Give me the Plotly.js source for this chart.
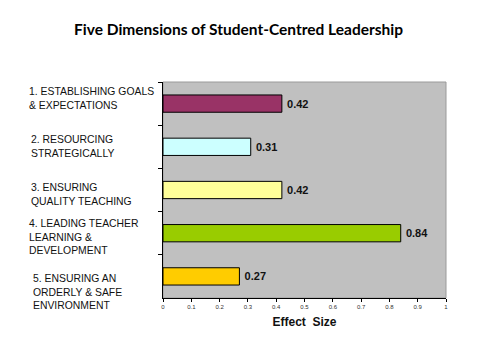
<!DOCTYPE html>
<html><head><meta charset="utf-8">
<script src="https://cdn.plot.ly/plotly-3.0.1.min.js"></script>
<style>html,body{margin:0;padding:0;background:#fff}#c{width:480px;height:360px}</style>
</head><body><div id="c"></div>
<script>
const categories = ["1", "2", "3", "4", "5"];
const labels = [
  "1. ESTABLISHING GOALS<br>& EXPECTATIONS",
  "2. RESOURCING<br>STRATEGICALLY",
  "3. ENSURING<br>QUALITY TEACHING",
  "4. LEADING TEACHER<br>LEARNING &<br>DEVELOPMENT",
  "5. ENSURING AN<br>ORDERLY & SAFE<br>ENVIRONMENT"
];
const values = [0.42, 0.31, 0.42, 0.84, 0.27];
const valueText = ["0.42", "0.31", "0.42", "0.84", "0.27"];
const xTicks = [0, 0.1, 0.2, 0.3, 0.4, 0.5, 0.6, 0.7, 0.8, 0.9, 1];
const xTickText = ["0", "0.1", "0.2", "0.3", "0.4", "0.5", "0.6", "0.7", "0.8", "0.9", "1"];

const colors = ["#993366", "#CCFFFF", "#FFFF99", "#99CC00", "#FFCC00"];
const labelShift = [5, 0, -4, -4, -16];
const labelX = [27, 29, 29, 27, 31];

const trace = {
  type: "bar", orientation: "h",
  x: values, y: categories,
  marker: {color: colors, line: {color: "#000", width: 1}},
  text: valueText.map(t => "\u2009" + t), textposition: "outside", cliponaxis: false,
  textfont: {family: "Liberation Sans, Arial, sans-serif", size: 11, color: "#111", weight: "bold"},
  hoverinfo: "none"
};

const annotations = categories.map((c, i) => ({
  xref: "paper", yref: "y", x: (labelX[i] - 163) / 283, y: i,
  xanchor: "left", yanchor: "middle", align: "left", showarrow: false,
  text: labels[i], yshift: labelShift[i],
  font: {family: "Liberation Sans, Arial, sans-serif", size: 10.4, color: "#111"}
}));

const layout = {
  width: 480, height: 360,
  margin: {l: 163, r: 34, t: 82, b: 62},
  paper_bgcolor: "#fff", plot_bgcolor: "#C0C0C0",
  showlegend: false,
  bargap: 0.6,
  title: {text: "Five Dimensions of Student-Centred Leadership", x: 0.497, xanchor: "center", y: 0.917, yanchor: "middle",
    font: {family: "Lato, Open Sans, sans-serif", size: 15.5, color: "#000", weight: "bold"}},
  xaxis: {range: [0, 1], tickvals: xTicks, ticktext: xTickText, showgrid: false, zeroline: false,
    showline: true, linecolor: "#000", linewidth: 1, ticks: "outside", ticklen: 3, tickcolor: "#000",
    tickfont: {family: "Liberation Sans, Arial, sans-serif", size: 6, color: "#333"},
    title: {text: "Effect  Size", standoff: 8, font: {family: "Liberation Sans, Arial, sans-serif", size: 12, color: "#111", weight: "bold"}},
    fixedrange: true},
  yaxis: {type: "category", autorange: "reversed", showticklabels: false, showgrid: false, zeroline: false,
    showline: true, linecolor: "#000", linewidth: 1, ticks: "outside", ticklen: 4, tickcolor: "#000",
    tickson: "boundaries", fixedrange: true},
  shapes: [{type: "rect", xref: "paper", yref: "paper", x0: 0, x1: 1, y0: 0, y1: 1,
    line: {color: "#9a9a9a", width: 1}, layer: "below"}],
  annotations: annotations
};

Plotly.newPlot("c", [trace], layout, {displayModeBar: false, staticPlot: true});
</script></body></html>
